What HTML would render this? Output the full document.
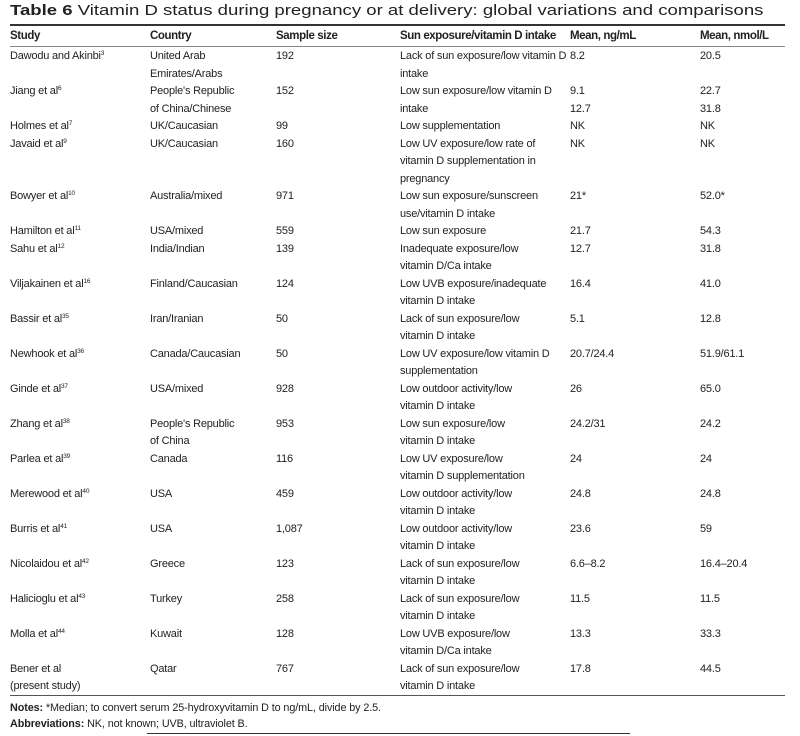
<!DOCTYPE html>
<html><head><meta charset="utf-8"><style>
body{margin:0;width:800px;height:736px;background:#fff;position:relative;font-family:"Liberation Sans",sans-serif;color:#222;overflow:hidden}
.t{position:absolute;font-size:11px;line-height:17.5px;white-space:nowrap;letter-spacing:-0.2px}
.h{font-weight:bold;font-size:11.5px;letter-spacing:-0.4px}
sup{font-size:6.5px;vertical-align:4px;line-height:0}
.rule{position:absolute;left:10px;width:775px}
</style></head><body>
<div class="t" style="left:10px;top:3px;font-size:14.5px;letter-spacing:0;transform:scaleX(1.28);transform-origin:0 0"><b>Table 6</b> Vitamin D status during pregnancy or at delivery: global variations and comparisons</div>
<div class="rule" style="top:24px;height:2px;background:#333"></div>
<div class="t h" style="left:10px;top:28px">Study</div>
<div class="t h" style="left:150px;top:28px">Country</div>
<div class="t h" style="left:276px;top:28px">Sample size</div>
<div class="t h" style="left:400px;top:28px">Sun exposure/vitamin D intake</div>
<div class="t h" style="left:570px;top:28px">Mean, ng/mL</div>
<div class="t h" style="left:700px;top:28px">Mean, nmol/L</div>
<div class="rule" style="top:46px;height:1px;background:#888"></div>

<div style="position:absolute;left:0;top:48px">
<div class="t" style="left:10px;top:0">Dawodu and Akinbi<sup>3</sup></div><div class="t" style="left:150px;top:0">United Arab<br>Emirates/Arabs</div><div class="t" style="left:276px;top:0">192</div><div class="t" style="left:400px;top:0">Lack of sun exposure/low vitamin D<br>intake</div><div class="t" style="left:570px;top:0">8.2</div><div class="t" style="left:700px;top:0">20.5</div>

<div class="t" style="left:10px;top:35px">Jiang et al<sup>6</sup></div><div class="t" style="left:150px;top:35px">People's Republic<br>of China/Chinese</div><div class="t" style="left:276px;top:35px">152</div><div class="t" style="left:400px;top:35px">Low sun exposure/low vitamin D<br>intake</div><div class="t" style="left:570px;top:35px">9.1<br>12.7</div><div class="t" style="left:700px;top:35px">22.7<br>31.8</div>

<div class="t" style="left:10px;top:70px">Holmes et al<sup>7</sup></div><div class="t" style="left:150px;top:70px">UK/Caucasian</div><div class="t" style="left:276px;top:70px">99</div><div class="t" style="left:400px;top:70px">Low supplementation</div><div class="t" style="left:570px;top:70px">NK</div><div class="t" style="left:700px;top:70px">NK</div>

<div class="t" style="left:10px;top:87.5px">Javaid et al<sup>9</sup></div><div class="t" style="left:150px;top:87.5px">UK/Caucasian</div><div class="t" style="left:276px;top:87.5px">160</div><div class="t" style="left:400px;top:87.5px">Low UV exposure/low rate of<br>vitamin D supplementation in<br>pregnancy</div><div class="t" style="left:570px;top:87.5px">NK</div><div class="t" style="left:700px;top:87.5px">NK</div>

<div class="t" style="left:10px;top:140px">Bowyer et al<sup>10</sup></div><div class="t" style="left:150px;top:140px">Australia/mixed</div><div class="t" style="left:276px;top:140px">971</div><div class="t" style="left:400px;top:140px">Low sun exposure/sunscreen<br>use/vitamin D intake</div><div class="t" style="left:570px;top:140px">21*</div><div class="t" style="left:700px;top:140px">52.0*</div>

<div class="t" style="left:10px;top:175px">Hamilton et al<sup>11</sup></div><div class="t" style="left:150px;top:175px">USA/mixed</div><div class="t" style="left:276px;top:175px">559</div><div class="t" style="left:400px;top:175px">Low sun exposure</div><div class="t" style="left:570px;top:175px">21.7</div><div class="t" style="left:700px;top:175px">54.3</div>

<div class="t" style="left:10px;top:192.5px">Sahu et al<sup>12</sup></div><div class="t" style="left:150px;top:192.5px">India/Indian</div><div class="t" style="left:276px;top:192.5px">139</div><div class="t" style="left:400px;top:192.5px">Inadequate exposure/low<br>vitamin D/Ca intake</div><div class="t" style="left:570px;top:192.5px">12.7</div><div class="t" style="left:700px;top:192.5px">31.8</div>

<div class="t" style="left:10px;top:227.5px">Viljakainen et al<sup>16</sup></div><div class="t" style="left:150px;top:227.5px">Finland/Caucasian</div><div class="t" style="left:276px;top:227.5px">124</div><div class="t" style="left:400px;top:227.5px">Low UVB exposure/inadequate<br>vitamin D intake</div><div class="t" style="left:570px;top:227.5px">16.4</div><div class="t" style="left:700px;top:227.5px">41.0</div>

<div class="t" style="left:10px;top:262.5px">Bassir et al<sup>35</sup></div><div class="t" style="left:150px;top:262.5px">Iran/Iranian</div><div class="t" style="left:276px;top:262.5px">50</div><div class="t" style="left:400px;top:262.5px">Lack of sun exposure/low<br>vitamin D intake</div><div class="t" style="left:570px;top:262.5px">5.1</div><div class="t" style="left:700px;top:262.5px">12.8</div>

<div class="t" style="left:10px;top:297.5px">Newhook et al<sup>36</sup></div><div class="t" style="left:150px;top:297.5px">Canada/Caucasian</div><div class="t" style="left:276px;top:297.5px">50</div><div class="t" style="left:400px;top:297.5px">Low UV exposure/low vitamin D<br>supplementation</div><div class="t" style="left:570px;top:297.5px">20.7/24.4</div><div class="t" style="left:700px;top:297.5px">51.9/61.1</div>

<div class="t" style="left:10px;top:332.5px">Ginde et al<sup>37</sup></div><div class="t" style="left:150px;top:332.5px">USA/mixed</div><div class="t" style="left:276px;top:332.5px">928</div><div class="t" style="left:400px;top:332.5px">Low outdoor activity/low<br>vitamin D intake</div><div class="t" style="left:570px;top:332.5px">26</div><div class="t" style="left:700px;top:332.5px">65.0</div>

<div class="t" style="left:10px;top:367.5px">Zhang et al<sup>38</sup></div><div class="t" style="left:150px;top:367.5px">People's Republic<br>of China</div><div class="t" style="left:276px;top:367.5px">953</div><div class="t" style="left:400px;top:367.5px">Low sun exposure/low<br>vitamin D intake</div><div class="t" style="left:570px;top:367.5px">24.2/31</div><div class="t" style="left:700px;top:367.5px">24.2</div>

<div class="t" style="left:10px;top:402.5px">Parlea et al<sup>39</sup></div><div class="t" style="left:150px;top:402.5px">Canada</div><div class="t" style="left:276px;top:402.5px">116</div><div class="t" style="left:400px;top:402.5px">Low UV exposure/low<br>vitamin D supplementation</div><div class="t" style="left:570px;top:402.5px">24</div><div class="t" style="left:700px;top:402.5px">24</div>

<div class="t" style="left:10px;top:437.5px">Merewood et al<sup>40</sup></div><div class="t" style="left:150px;top:437.5px">USA</div><div class="t" style="left:276px;top:437.5px">459</div><div class="t" style="left:400px;top:437.5px">Low outdoor activity/low<br>vitamin D intake</div><div class="t" style="left:570px;top:437.5px">24.8</div><div class="t" style="left:700px;top:437.5px">24.8</div>

<div class="t" style="left:10px;top:472.5px">Burris et al<sup>41</sup></div><div class="t" style="left:150px;top:472.5px">USA</div><div class="t" style="left:276px;top:472.5px">1,087</div><div class="t" style="left:400px;top:472.5px">Low outdoor activity/low<br>vitamin D intake</div><div class="t" style="left:570px;top:472.5px">23.6</div><div class="t" style="left:700px;top:472.5px">59</div>

<div class="t" style="left:10px;top:507.5px">Nicolaidou et al<sup>42</sup></div><div class="t" style="left:150px;top:507.5px">Greece</div><div class="t" style="left:276px;top:507.5px">123</div><div class="t" style="left:400px;top:507.5px">Lack of sun exposure/low<br>vitamin D intake</div><div class="t" style="left:570px;top:507.5px">6.6–8.2</div><div class="t" style="left:700px;top:507.5px">16.4–20.4</div>

<div class="t" style="left:10px;top:542.5px">Halicioglu et al<sup>43</sup></div><div class="t" style="left:150px;top:542.5px">Turkey</div><div class="t" style="left:276px;top:542.5px">258</div><div class="t" style="left:400px;top:542.5px">Lack of sun exposure/low<br>vitamin D intake</div><div class="t" style="left:570px;top:542.5px">11.5</div><div class="t" style="left:700px;top:542.5px">11.5</div>

<div class="t" style="left:10px;top:577.5px">Molla et al<sup>44</sup></div><div class="t" style="left:150px;top:577.5px">Kuwait</div><div class="t" style="left:276px;top:577.5px">128</div><div class="t" style="left:400px;top:577.5px">Low UVB exposure/low<br>vitamin D/Ca intake</div><div class="t" style="left:570px;top:577.5px">13.3</div><div class="t" style="left:700px;top:577.5px">33.3</div>

<div class="t" style="left:10px;top:612.5px">Bener et al<br>(present study)</div><div class="t" style="left:150px;top:612.5px">Qatar</div><div class="t" style="left:276px;top:612.5px">767</div><div class="t" style="left:400px;top:612.5px">Lack of sun exposure/low<br>vitamin D intake</div><div class="t" style="left:570px;top:612.5px">17.8</div><div class="t" style="left:700px;top:612.5px">44.5</div>
</div>

<div class="rule" style="top:695px;height:1px;background:#555"></div>
<div class="t" style="left:10px;top:700px;font-size:10.8px;line-height:16px;letter-spacing:-0.1px"><b>Notes:</b> *Median; to convert serum 25-hydroxyvitamin D to ng/mL, divide by 2.5.<br><b>Abbreviations:</b> NK, not known; UVB, ultraviolet B.</div>
<div style="position:absolute;left:147px;width:483px;top:733px;height:1px;background:#333"></div>
</body></html>
